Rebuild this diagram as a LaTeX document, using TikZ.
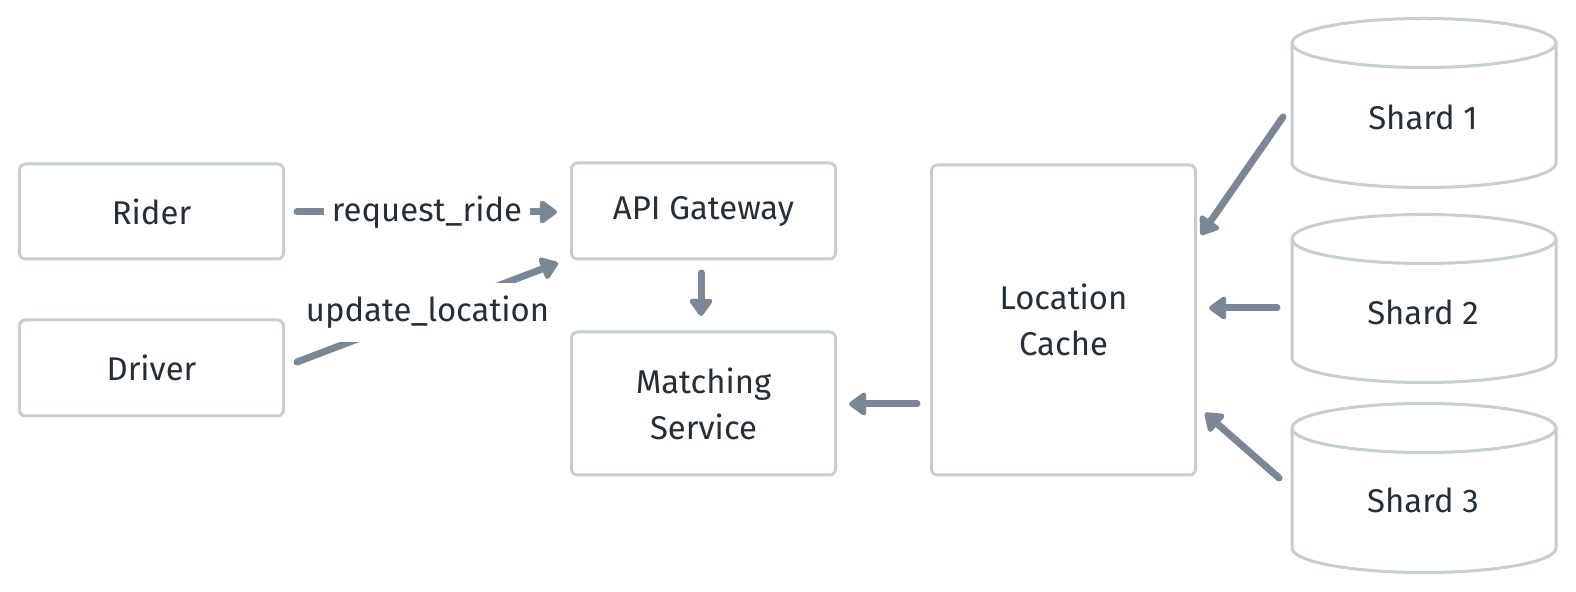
\documentclass[tikz,border=0pt]{standalone}
\usepackage{fontspec}
\setmainfont{Fira Sans}
\usetikzlibrary{arrows.meta}
\definecolor{boxline}{HTML}{C5CDD5}
\definecolor{arrowcol}{HTML}{7A8796}
\definecolor{txt}{HTML}{242F3A}
\begin{document}
\begin{tikzpicture}[x=1bp,y=1bp,
  box/.style={draw=boxline,line width=3bp,rounded corners=6bp,minimum width=264bp,
    text=txt,align=center,font=\fontsize{33}{46}\selectfont,fill=white},
  flow/.style={draw=arrowcol,line width=7bp,line cap=round,
    -{Triangle[length=19bp,width=26bp,round]}},
  lbl/.style={fill=white,text=txt,font=\fontsize{33}{40}\selectfont,inner xsep=8bp,inner ysep=13bp},
  cyl/.style={draw=boxline,line width=3bp,fill=white},
  cyltxt/.style={text=txt,font=\fontsize{33}{40}\selectfont}]
\useasboundingbox (0,0) rectangle (1576,592);
\fill[white] (0,0) rectangle (1576,592);

\node[box,minimum height=95bp] (rider) at (151.5,380.5) {Rider};
\node[box,minimum height=96bp] (driver) at (151.5,224) {Driver};
\node[box,minimum height=96bp] (api) at (703.5,381) {API Gateway};
\node[box,minimum height=143bp] (match) at (703.5,188.5) {Matching\\Service};
\node[box,minimum height=310bp] (loc) at (1063.5,272) {Location\\Cache};

% cylinders
\foreach \yt/\yb in {549/429, 353/234, 164/44}{
  \draw[cyl] (1292,\yt) -- (1292,\yb) arc[start angle=180,end angle=360,x radius=132bp,y radius=24.5bp] -- (1556,\yt);
  \draw[cyl] (1424,\yt) ellipse[x radius=132bp,y radius=24.5bp];
}
\node[cyltxt] (s1) at (1423,475) {Shard 1};
\node[cyltxt] (s2) at (1423,280) {Shard 2};
\node[cyltxt] (s3) at (1423,92) {Shard 3};

% connector end points
\coordinate (a1s) at (297,380);
\coordinate (a1e) at (557,380);
\coordinate (a2s) at (297,230);
\coordinate (a2e) at (558,329);
\coordinate (a3s) at (701,319);
\coordinate (a3e) at (701,276);
\coordinate (a4s) at (917,188);
\coordinate (a4e) at (849,188);
\coordinate (a5s) at (1283,475);
\coordinate (a5e) at (1201,357);
\coordinate (a6s) at (1277,284);
\coordinate (a6e) at (1209,284);
\coordinate (a7s) at (1279,114);
\coordinate (a7e) at (1205,179);

\draw[flow] (a1s) -- node[lbl] {request\_ride} (a1e);
\draw[flow] (a2s) -- node[lbl] {update\_location} (a2e);
\draw[flow] (a3s) -- (a3e);
\draw[flow] (a4s) -- (a4e);
\draw[flow] (a5s) -- (a5e);
\draw[flow] (a6s) -- (a6e);
\draw[flow] (a7s) -- (a7e);
\end{tikzpicture}
\end{document}
